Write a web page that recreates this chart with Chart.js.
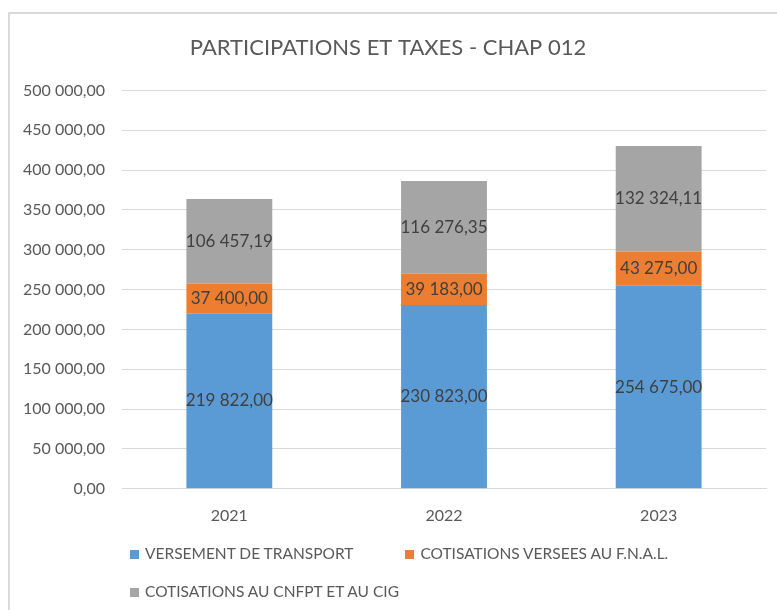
<!DOCTYPE html>
<html>
<head>
<meta charset="utf-8">
<script src="https://cdn.jsdelivr.net/npm/chart.js@4"></script>
<style>
  html, body { margin: 0; padding: 0; background: #fff; overflow: hidden; }
  #wrap { position: relative; width: 777px; height: 610px; }
  #frame { position: absolute; left: 8px; top: 12px; width: 900px; height: 900px; border: 2px solid #d9d9d9; box-sizing: border-box; }
  canvas { position: absolute; left: 0; top: 0; }
  #legend { position: absolute; left: 130px; top: 541px; width: 630px; font-family: Lato, sans-serif; font-size: 15.5px; color: #595959; }
  #legend .item { display: inline-block; height: 38px; line-height: 24px; margin-right: 52px; white-space: nowrap; }
  #legend .box { display: inline-block; width: 9px; height: 9px; margin-right: 6px; vertical-align: 0; }
</style>
</head>
<body>
<div id="wrap">
  <div id="frame"></div>
  <canvas id="chart" width="777" height="610"></canvas>
  <div id="legend"></div>
</div>
<script>
const years = ['2021', '2022', '2023'];
const versementTransport = [219822.00, 230823.00, 254675.00];
const cotisationsFnal = [37400.00, 39183.00, 43275.00];
const cotisationsCnfpt = [106457.19, 116276.35, 132324.11];
const seriesNames = ['VERSEMENT DE TRANSPORT', 'COTISATIONS VERSEES AU F.N.A.L.', 'COTISATIONS AU CNFPT ET AU CIG'];
const seriesColors = ['#5b9bd5', '#ed7d31', '#a5a5a5'];

const FONT = 'Lato, sans-serif';
const TEXT = '#595959';

function frNumber(v) {
    const parts = v.toFixed(2).split('.');
    const int = parts[0].replace(/\B(?=(\d{3})+(?!\d))/g, ' ');
    return int + ',' + parts[1];
}

// draws each value in the middle of its bar segment
const segmentLabels = {
    id: 'segmentLabels',
    afterDatasetsDraw(chart) {
        const ctx = chart.ctx;
        ctx.save();
        ctx.font = '17px ' + FONT;
        ctx.fillStyle = '#404040';
        ctx.textAlign = 'center';
        ctx.textBaseline = 'middle';
        chart.data.datasets.forEach((ds, i) => {
            chart.getDatasetMeta(i).data.forEach((bar, j) => {
                const mid = (bar.y + bar.base) / 2;
                ctx.fillText(frNumber(ds.data[j]), bar.x, mid);
            });
        });
        ctx.restore();
    }
};

const chart = new Chart(document.getElementById('chart'), {
    type: 'bar',
    data: {
        labels: years,
        datasets: [
            { label: seriesNames[0], data: versementTransport, backgroundColor: seriesColors[0] },
            { label: seriesNames[1], data: cotisationsFnal, backgroundColor: seriesColors[1] },
            { label: seriesNames[2], data: cotisationsCnfpt, backgroundColor: seriesColors[2] }
        ]
    },
    options: {
        responsive: false,
        animation: false,
        barPercentage: 0.5,
        categoryPercentage: 0.8,
        layout: { padding: { left: 10, right: 11, top: 0, bottom: 68 } },
        plugins: {
            legend: { display: false },
            tooltip: { enabled: false },
            title: {
                display: true,
                text: 'PARTICIPATIONS ET TAXES - CHAP 012',
                color: TEXT,
                font: { family: FONT, size: 22, weight: 'normal' },
                padding: { top: 35, bottom: 29 }
            }
        },
        scales: {
            x: {
                stacked: true,
                grid: { display: false, drawTicks: false },
                border: { display: true, color: '#d9d9d9' },
                ticks: { color: TEXT, font: { family: FONT, size: 16 }, padding: 17 }
            },
            y: {
                stacked: true,
                min: 0,
                max: 500000,
                afterFit(scale) { scale.width = 112; },
                grid: { color: '#d9d9d9', drawTicks: false },
                border: { display: false },
                ticks: {
                    stepSize: 50000,
                    color: TEXT,
                    font: { family: FONT, size: 16 },
                    padding: 17,
                    callback: v => frNumber(v)
                }
            }
        }
    },
    plugins: [segmentLabels]
});

const legendEl = document.getElementById('legend');
chart.data.datasets.forEach(ds => {
    const item = document.createElement('span');
    item.className = 'item';
    const box = document.createElement('span');
    box.className = 'box';
    box.style.background = ds.backgroundColor;
    item.appendChild(box);
    item.appendChild(document.createTextNode(ds.label));
    legendEl.appendChild(item);
});
</script>
</body>
</html>
